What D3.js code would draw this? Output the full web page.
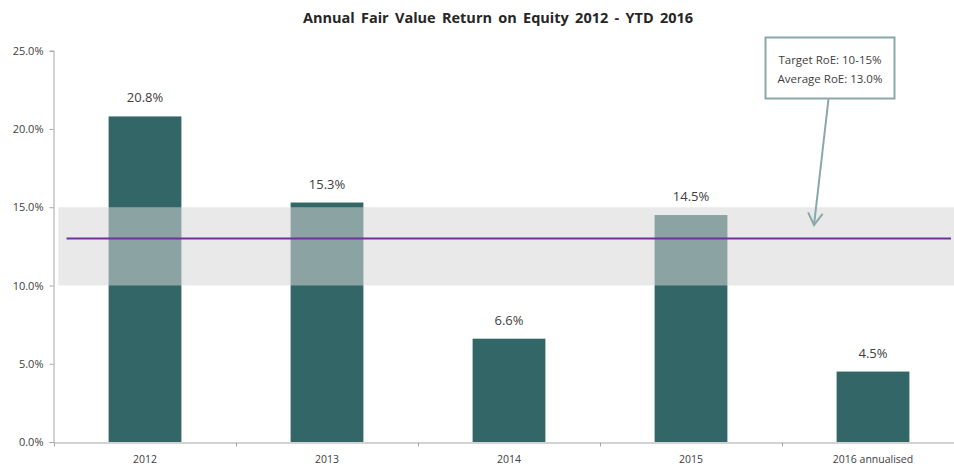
<!DOCTYPE html>
<html>
<head>
<meta charset="utf-8">
<script src="https://cdn.jsdelivr.net/npm/d3@7"></script>
<style>
  body { margin: 0; background: #fff; }
  text { font-family: "Open Sans", "Liberation Sans", sans-serif; fill: #404040; }
</style>
</head>
<body>
<svg id="svg" width="954" height="468"></svg>
<script>
// chart data
var years = ["2012", "2013", "2014", "2015", "2016 annualised"];
var roe = [20.8, 15.3, 6.6, 14.5, 4.5];
var yTicks = [0, 5, 10, 15, 20, 25];
var target = [10, 15];
var average = 13.0;
var noteLines = ["Target RoE: 10-15%", "Average RoE: 13.0%"];

var svg = d3.select("#svg");

var x = d3.scaleBand().domain(years).range([54, 964]).paddingInner(0.6).paddingOuter(0.3);
var y = d3.scaleLinear().domain([0, 25]).range([442, 50.7]);

// title
svg.append("text")
  .attr("x", 498).attr("y", 23)
  .attr("text-anchor", "middle")
  .style("font-weight", "bold")
  .style("font-size", "14.5px")
  .style("word-spacing", "2.5px")
  .style("fill", "#262626")
  .text("Annual Fair Value Return on Equity 2012 - YTD 2016");

// bars
svg.selectAll("rect.bar").data(roe).enter().append("rect")
  .attr("class", "bar")
  .attr("x", function(d, i) { return x(years[i]); })
  .attr("width", x.bandwidth())
  .attr("y", function(d) { return y(d); })
  .attr("height", function(d) { return y(0) - y(d); })
  .attr("fill", "#336666");

// target band on top of bars (semi transparent)
svg.append("rect")
  .attr("x", 58.3).attr("width", 954 - 58.3)
  .attr("y", y(target[1]))
  .attr("height", y(target[0]) - y(target[1]))
  .attr("fill", "rgb(214,214,214)")
  .attr("fill-opacity", 0.54);

// average line
svg.append("line")
  .attr("x1", 66.5).attr("x2", 951)
  .attr("y1", y(average)).attr("y2", y(average))
  .attr("stroke", "#7030a0").attr("stroke-width", 2);

// value labels
svg.selectAll("text.val").data(roe).enter().append("text")
  .attr("class", "val")
  .attr("x", function(d, i) { return x(years[i]) + x.bandwidth() / 2; })
  .attr("y", function(d) { return y(d) - 14; })
  .attr("text-anchor", "middle")
  .style("font-size", "13px")
  .text(function(d) { return d.toFixed(1) + "%"; });

// y axis
var yAxis = svg.append("g")
  .attr("transform", "translate(53.5,0)")
  .call(d3.axisLeft(y).tickValues(yTicks).tickSize(4).tickPadding(6)
    .tickFormat(function(d) { return d.toFixed(1) + "%"; }));
yAxis.selectAll("text").style("font-size", "11px").style("fill", "#404040")
  .style("font-family", "'Open Sans', sans-serif");

// x axis
var xAxis = svg.append("g")
  .attr("transform", "translate(0,442.5)")
  .call(d3.axisBottom(x).tickSize(0).tickPadding(13));
xAxis.selectAll("text").style("font-size", "10.5px").style("fill", "#404040")
  .style("font-family", "'Open Sans', sans-serif");
// category separators
var sep = years.map(function(d, i) { return 54 + i * x.step(); });
xAxis.selectAll("line.sep").data(sep).enter().append("line")
  .attr("class", "sep")
  .attr("x1", function(d) { return d + 0.5; }).attr("x2", function(d) { return d + 0.5; })
  .attr("y1", 0).attr("y2", 4);
svg.selectAll(".domain, .tick line, line.sep").attr("stroke", "#a6a6a6");

// annotation box and arrow
var note = svg.append("g");
note.append("rect")
  .attr("x", 765.5).attr("y", 37.5).attr("width", 129).attr("height", 61)
  .attr("fill", "#fff").attr("stroke", "#8aa8a8").attr("stroke-width", 2);
note.selectAll("text").data(noteLines).enter().append("text")
  .attr("x", 830)
  .attr("y", function(d, i) { return 64 + i * 19; })
  .attr("text-anchor", "middle")
  .style("font-size", "11.5px")
  .text(function(d) { return d; });

var ax1 = 828.5, ay1 = 99, ax2 = 814, ay2 = 225;
note.append("line")
  .attr("x1", ax1).attr("y1", ay1).attr("x2", ax2).attr("y2", ay2)
  .attr("stroke", "#8aa8a8").attr("stroke-width", 2);
var ang = Math.atan2(ay2 - ay1, ax2 - ax1);
var head = [ang - 0.55, ang + 0.55].map(function(a) {
  return [ax2 - 14 * Math.cos(a), ay2 - 14 * Math.sin(a)];
});
note.append("path")
  .attr("d", "M" + head[0] + "L" + ax2 + "," + ay2 + "L" + head[1])
  .attr("fill", "none").attr("stroke", "#8aa8a8").attr("stroke-width", 2);
</script>
</body>
</html>
